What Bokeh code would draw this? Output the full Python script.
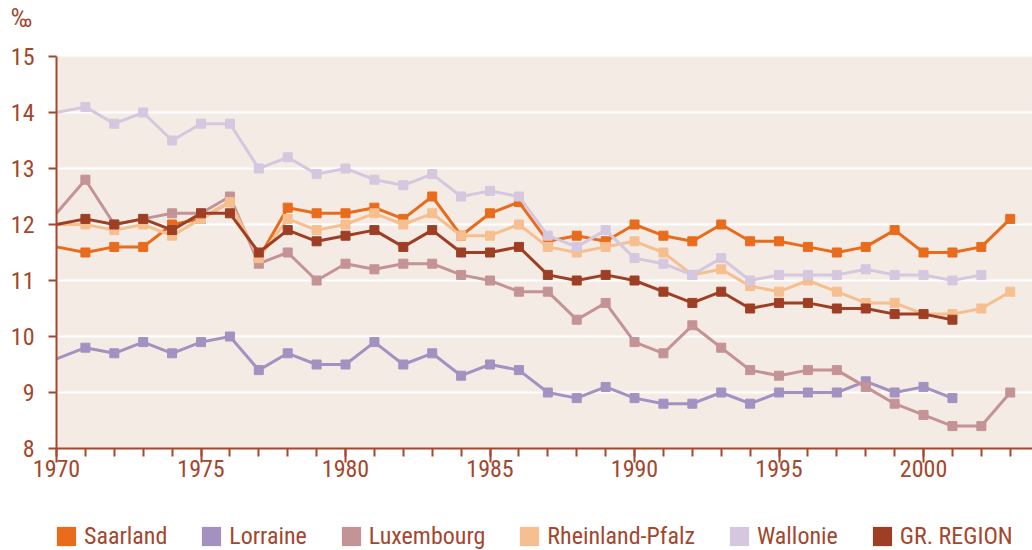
from bokeh.plotting import figure
from bokeh.models import (Range1d, FixedTicker, Legend, LegendItem, ColumnDataSource, Div)
from bokeh.layouts import column
from bokeh.embed import file_html
from bokeh.resources import INLINE

years = list(range(1970, 2004))

saarland = [11.6, 11.5, 11.6, 11.6, 12.0, 12.1, 12.4, 11.4, 12.3, 12.2, 12.2, 12.3, 12.1, 12.5, 11.8,
            12.2, 12.4, 11.7, 11.8, 11.7, 12.0, 11.8, 11.7, 12.0, 11.7, 11.7, 11.6, 11.5, 11.6, 11.9,
            11.5, 11.5, 11.6, 12.1]
lorraine = [9.6, 9.8, 9.7, 9.9, 9.7, 9.9, 10.0, 9.4, 9.7, 9.5, 9.5, 9.9, 9.5, 9.7, 9.3,
            9.5, 9.4, 9.0, 8.9, 9.1, 8.9, 8.8, 8.8, 9.0, 8.8, 9.0, 9.0, 9.0, 9.2, 9.0,
            9.1, 8.9, None, None]
luxembourg = [12.2, 12.8, 12.0, 12.1, 12.2, 12.2, 12.5, 11.3, 11.5, 11.0, 11.3, 11.2, 11.3, 11.3, 11.1,
              11.0, 10.8, 10.8, 10.3, 10.6, 9.9, 9.7, 10.2, 9.8, 9.4, 9.3, 9.4, 9.4, 9.1, 8.8,
              8.6, 8.4, 8.4, 9.0]
rheinland = [12.0, 12.0, 11.9, 12.0, 11.8, 12.1, 12.4, 11.4, 12.1, 11.9, 12.0, 12.2, 12.0, 12.2, 11.8,
             11.8, 12.0, 11.6, 11.5, 11.6, 11.7, 11.5, 11.1, 11.2, 10.9, 10.8, 11.0, 10.8, 10.6, 10.6,
             10.4, 10.4, 10.5, 10.8]
wallonie = [14.0, 14.1, 13.8, 14.0, 13.5, 13.8, 13.8, 13.0, 13.2, 12.9, 13.0, 12.8, 12.7, 12.9, 12.5,
            12.6, 12.5, 11.8, 11.6, 11.9, 11.4, 11.3, 11.1, 11.4, 11.0, 11.1, 11.1, 11.1, 11.2, 11.1,
            11.1, 11.0, 11.1, None]
gr_region = [12.0, 12.1, 12.0, 12.1, 11.9, 12.2, 12.2, 11.5, 11.9, 11.7, 11.8, 11.9, 11.6, 11.9, 11.5,
             11.5, 11.6, 11.1, 11.0, 11.1, 11.0, 10.8, 10.6, 10.8, 10.5, 10.6, 10.6, 10.5, 10.5, 10.4,
             10.4, 10.3, None, None]

series_names = ["Saarland", "Lorraine", "Luxembourg", "Rheinland-Pfalz", "Wallonie", "GR. REGION"]
series_values = [saarland, lorraine, luxembourg, rheinland, wallonie, gr_region]
colors = ["#E96B1C", "#A391C2", "#C49395", "#F6BF8F", "#D5C7DF", "#9E3F25"]

x_major_ticks = [1970, 1975, 1980, 1985, 1990, 1995, 2000]
y_ticks = [8, 9, 10, 11, 12, 13, 14, 15]
unit_label = "‰"

FONT = "'Liberation Sans Narrow', 'Roboto Condensed', Roboto, sans-serif"
AX = "#A3472E"

unit_html = ('<div style="font-family: %s; font-size: 26px; line-height: 30px; color: %s; '
             'padding-left: 11px; position: relative; top: 3px; margin: 0;">%s</div>'
             % (FONT.replace("'", ""), AX, unit_label))
unit = Div(text=unit_html, width=1032, height=30, margin=0)

p = figure(width=1032, height=460, output_backend="svg", toolbar_location=None,
           x_range=Range1d(1970, 2003.77), y_range=Range1d(8, 15),
           min_border_left=56, min_border_top=26, min_border_right=0, min_border_bottom=42)

p.background_fill_color = "#F4EBE4"
p.border_fill_color = "white"
p.outline_line_color = None

p.xgrid.grid_line_color = None
p.ygrid.grid_line_color = "white"
p.ygrid.grid_line_width = 2

p.xaxis.ticker = FixedTicker(ticks=x_major_ticks, minor_ticks=years)
p.yaxis.ticker = FixedTicker(ticks=y_ticks, minor_ticks=[])
for ax in (p.xaxis[0], p.yaxis[0]):
    ax.axis_line_color = AX
    ax.axis_line_width = 2
    ax.major_tick_line_color = AX
    ax.major_tick_line_width = 2
    ax.minor_tick_line_color = AX
    ax.minor_tick_line_width = 2
    ax.major_tick_in = 0
    ax.minor_tick_in = 0
    ax.major_label_text_color = AX
    ax.major_label_text_font = FONT
    ax.major_label_text_font_size = "24px"
p.xaxis.major_tick_out = 14
p.xaxis.minor_tick_out = 8
p.xaxis.major_label_standoff = -3
p.yaxis.major_tick_out = 8
p.yaxis.major_label_standoff = 14

for name, vals, col in zip(series_names, series_values, colors):
    xs = [y for y, v in zip(years, vals) if v is not None]
    vs = [v for v in vals if v is not None]
    src = ColumnDataSource(dict(x=xs, y=vs))
    p.line("x", "y", source=src, line_color=col, line_width=3)
    msrc = ColumnDataSource(dict(x=xs[1:], y=vs[1:]))
    p.scatter("x", "y", source=msrc, marker="square", size=9, fill_color=col, line_color=col)

# legend strip
lg = figure(width=1032, height=60, output_backend="svg", toolbar_location=None,
            x_range=Range1d(0, 1), y_range=Range1d(0, 1),
            min_border=0, x_axis_type=None, y_axis_type=None)
lg.outline_line_color = None
lg.grid.visible = False
nan = float("nan")
legend_items = []
for name, col in zip(series_names, colors):
    dummy = lg.quad(left=[nan], right=[nan], top=[nan], bottom=[nan], fill_color=col, line_color=None)
    legend_items.append(LegendItem(label=name, renderers=[dummy]))
legend = Legend(items=legend_items, orientation="horizontal", location=(-2, 0),
                glyph_width=24, glyph_height=24, label_standoff=6, spacing=32,
                padding=0, margin=0, border_line_alpha=0, background_fill_alpha=0,
                label_text_font=FONT, label_text_font_size="24px", label_text_color=AX)
lg.add_layout(legend, "center")

open("out.html", "w").write(file_html(column(unit, p, lg, spacing=0), INLINE))
